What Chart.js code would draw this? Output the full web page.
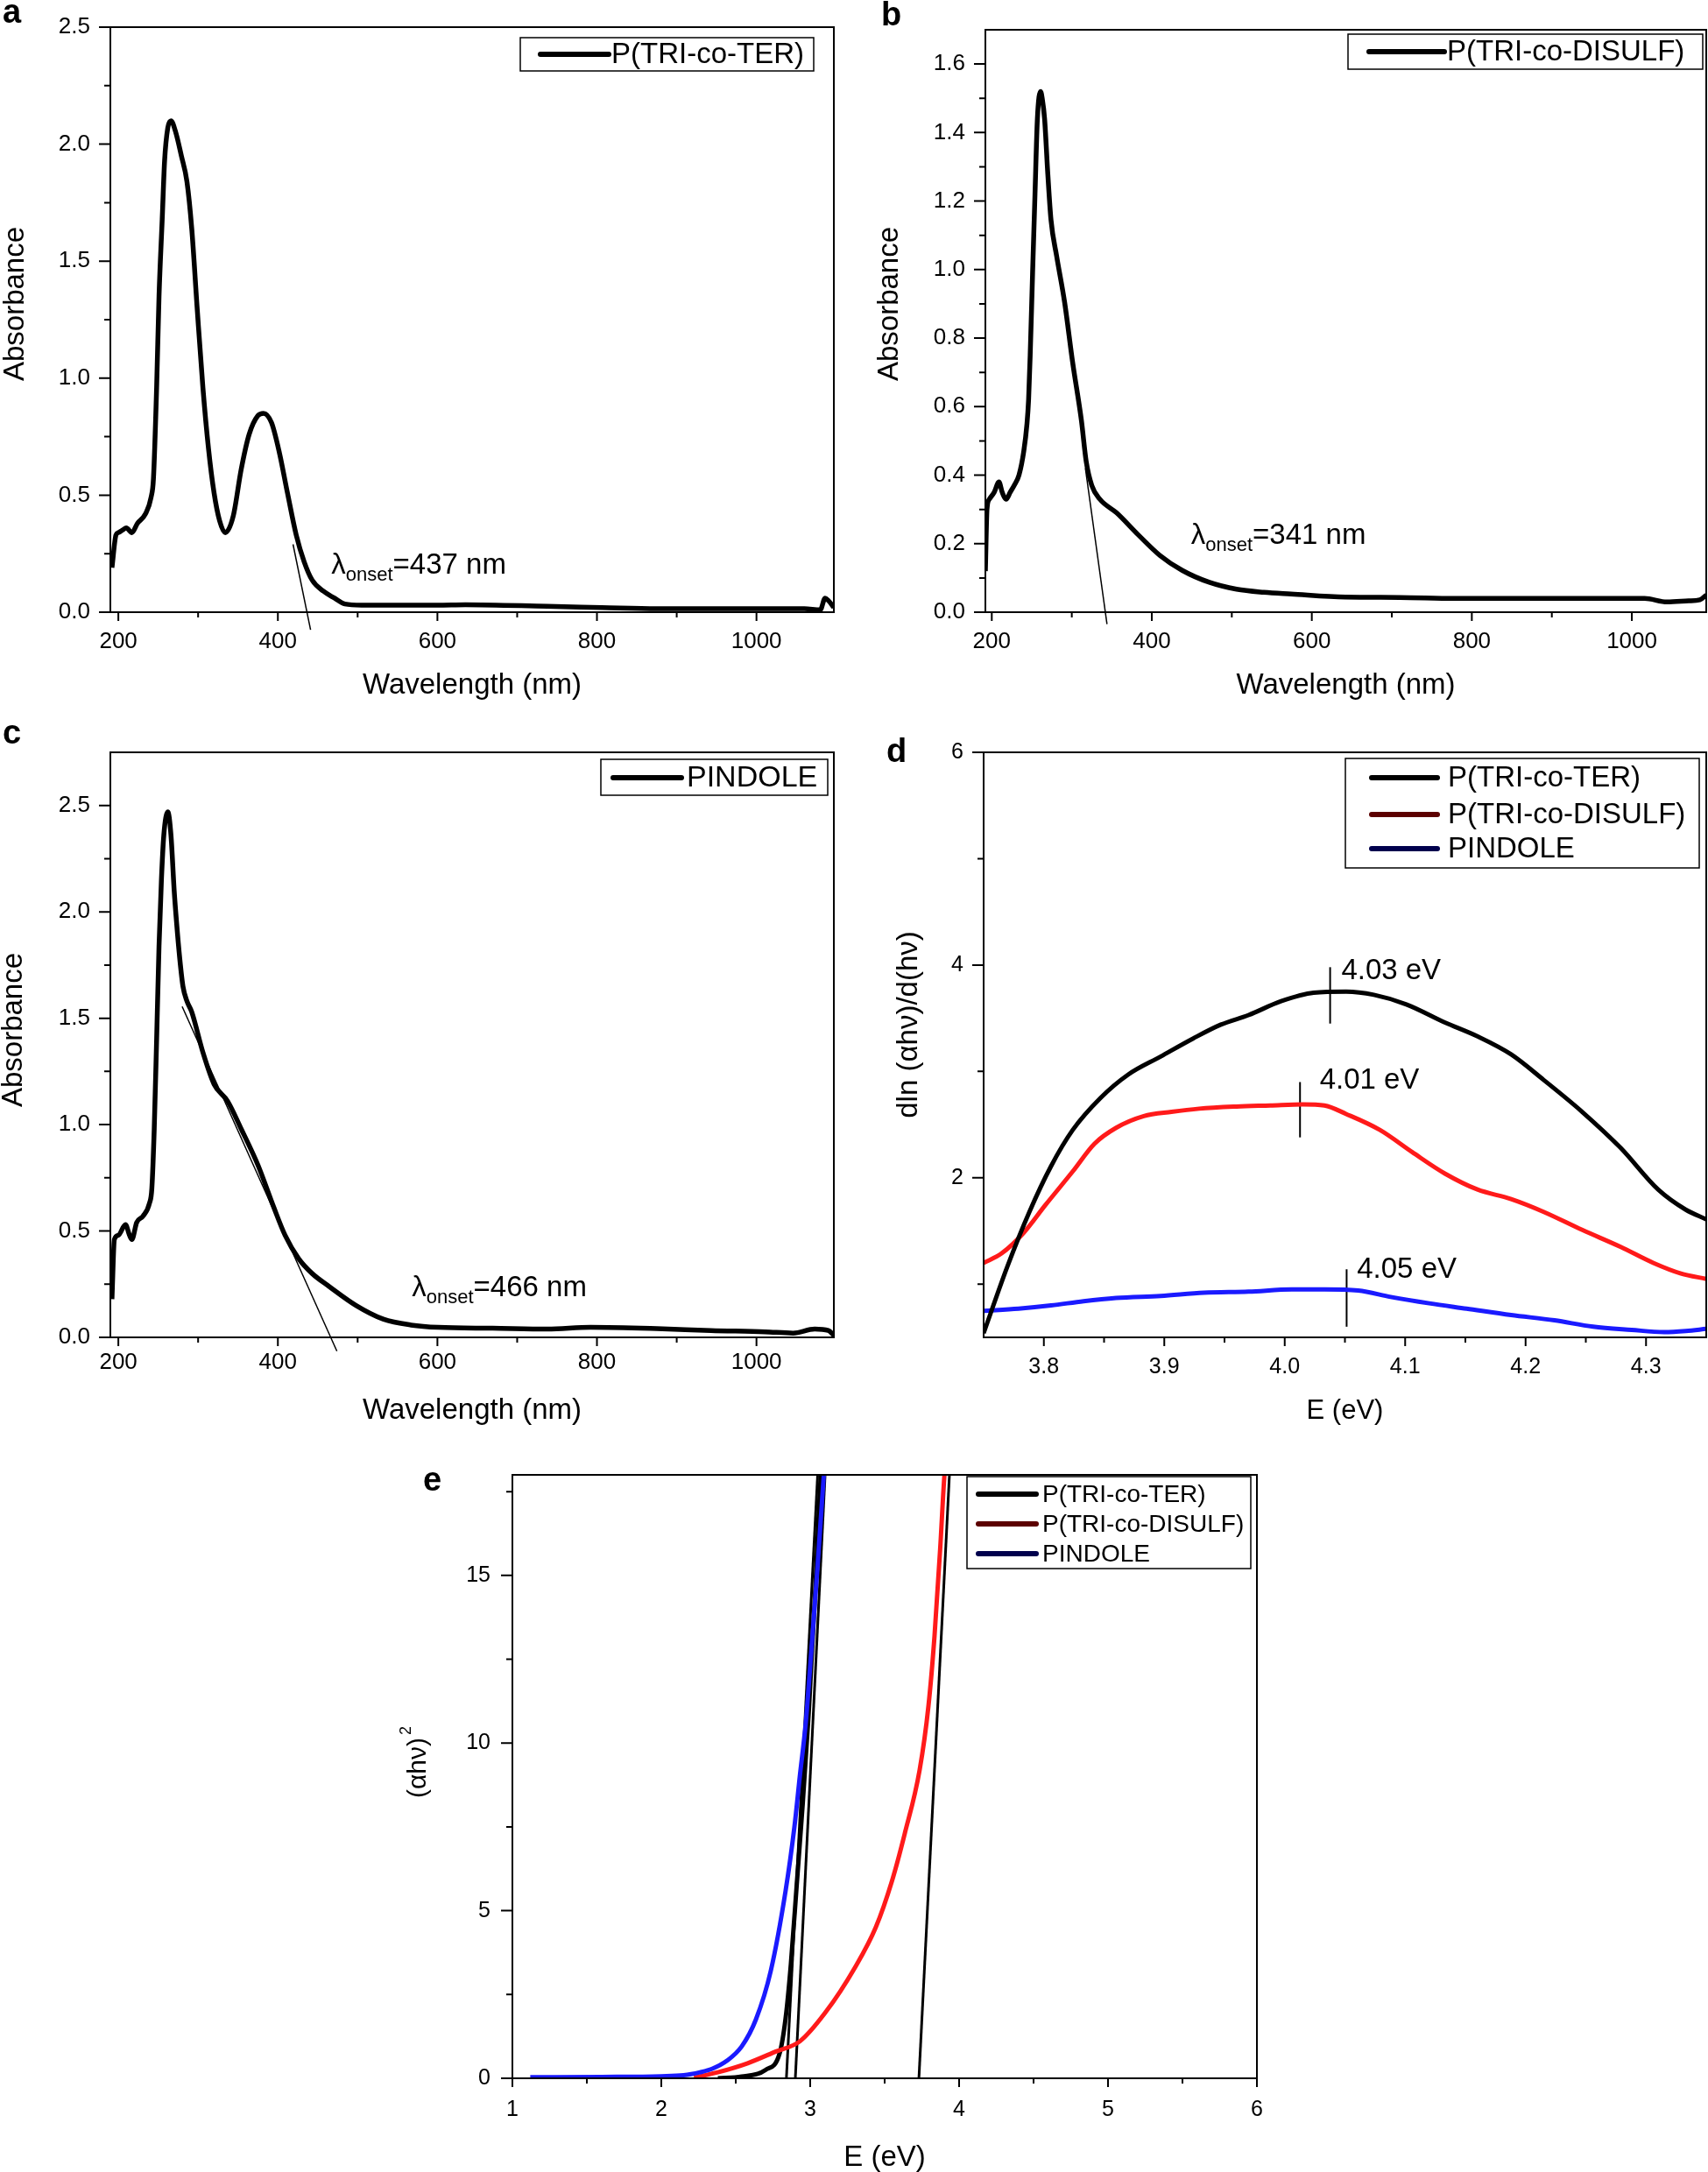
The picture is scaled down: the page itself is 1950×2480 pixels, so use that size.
<!DOCTYPE html>
<html>
<head>
<meta charset="utf-8">
<title>UV-vis spectra and optical band gaps</title>
<script src="https://cdn.jsdelivr.net/npm/chart.js@4.4.1/dist/chart.umd.min.js"></script>
<style>
  html, body { margin: 0; background: #fff; }
  body { position: relative; width: 1950px; height: 2480px; overflow: hidden; }
  canvas { position: absolute; }
</style>
</head>
<body>
<canvas id="pa" width="975" height="820" style="left:0;top:0"></canvas>
<canvas id="pb" width="975" height="820" style="left:975px;top:0"></canvas>
<canvas id="pc" width="975" height="820" style="left:0;top:820px"></canvas>
<canvas id="pd" width="975" height="820" style="left:975px;top:820px"></canvas>
<canvas id="pe" width="1100" height="820" style="left:420px;top:1660px"></canvas>
<script>
const FONT = '"Liberation Sans", Arial, Helvetica, sans-serif';

// tick values
const waveTicks = [200, 400, 600, 800, 1000];
const waveMinor = [300, 500, 700, 900];
const absTicksA = [0, 0.5, 1.0, 1.5, 2.0, 2.5];
const absMinorA = [0.25, 0.75, 1.25, 1.75, 2.25];
const absTicksB = [0, 0.2, 0.4, 0.6, 0.8, 1.0, 1.2, 1.4, 1.6];
const absMinorB = [0.1, 0.3, 0.5, 0.7, 0.9, 1.1, 1.3, 1.5];
const eTicksD = [3.8, 3.9, 4.0, 4.1, 4.2, 4.3];
const eMinorD = [3.85, 3.95, 4.05, 4.15, 4.25];
const derivTicks = [2, 4, 6];
const derivMinor = [1, 3, 5];
const eTicksE = [1, 2, 3, 4, 5, 6];
const eMinorE = [1.5, 2.5, 3.5, 4.5, 5.5];
const taucTicks = [0, 5, 10, 15];
const taucMinor = [2.5, 7.5, 12.5, 17.5];

const seriesNames = ['P(TRI-co-TER)', 'P(TRI-co-DISULF)', 'PINDOLE'];

// a: absorbance of P(TRI-co-TER), [nm, A]
const absTER = [[192,0.19],[197,0.33],[200,0.34],[205,0.35],[210,0.36],[217,0.34],[224,0.38],[234,0.42],[241,0.49],
  [244,0.57],[248,0.96],[251,1.35],[255,1.68],[258,1.93],[262,2.07],[266,2.10],[272,2.05],[279,1.95],[286,1.84],
  [292,1.64],[299,1.29],[306,0.96],[313,0.70],[320,0.51],[327,0.39],[334,0.34],[344,0.41],[354,0.61],[364,0.76],
  [375,0.84],[382,0.85],[392,0.81],[402,0.68],[412,0.51],[423,0.33],[433,0.215],[443,0.137],[457,0.09],[471,0.06],
  [484,0.035],[505,0.03],[600,0.03],[635,0.032],[738,0.025],[806,0.02],[875,0.015],[1011,0.015],[1060,0.015],
  [1080,0.01],[1086,0.06],[1090,0.05],[1097,0.02]];
const onsetTER = [[419,0.29],[441,-0.075]];

// b: absorbance of P(TRI-co-DISULF)
const absDISULF = [[192,0.12],[194,0.30],[197,0.33],[203,0.35],[209,0.38],[213,0.35],[218,0.33],[223,0.35],[228,0.37],
  [234,0.40],[240,0.47],[244,0.55],[246,0.62],[248,0.75],[251,0.99],[254,1.22],[257,1.44],[261,1.52],[263,1.50],
  [266,1.44],[270,1.28],[274,1.145],[281,1.04],[291,0.905],[301,0.73],[312,0.56],[318,0.44],[325,0.37],[335,0.33],
  [356,0.29],[383,0.226],[410,0.166],[438,0.122],[472,0.087],[506,0.067],[540,0.058],[574,0.053],[642,0.044],
  [710,0.043],[778,0.040],[914,0.040],[1016,0.040],[1044,0.030],[1071,0.033],[1085,0.036],[1093,0.05]];
const onsetDISULF = [[317,0.42],[344,-0.035]];

// c: absorbance of PINDOLE
const absPIND = [[192,0.18],[195,0.46],[200,0.48],[209,0.53],[214,0.48],[217,0.46],[223,0.54],[231,0.57],[239,0.63],
  [242,0.70],[245,0.98],[248,1.40],[251,1.84],[254,2.15],[257,2.36],[262,2.47],[266,2.36],[270,2.10],[273,1.95],
  [277,1.78],[281,1.65],[286,1.58],[292,1.53],[306,1.34],[320,1.19],[337,1.11],[354,0.98],[375,0.81],[395,0.61],
  [409,0.48],[426,0.37],[443,0.30],[464,0.24],[498,0.15],[532,0.086],[567,0.058],[601,0.047],[669,0.043],
  [738,0.039],[792,0.047],[875,0.041],[943,0.032],[1011,0.026],[1046,0.02],[1073,0.039],[1090,0.032],[1097,0.01]];
const onsetPIND = [[280,1.555],[474,-0.065]];

// d: dln(ahv)/d(hv) vs E, [eV, value]
const derivTER = [[3.75,0.54],[3.7695,1.16],[3.788,1.68],[3.806,2.11],[3.824,2.45],[3.847,2.75],[3.870,2.97],
  [3.897,3.14],[3.924,3.31],[3.947,3.44],[3.970,3.53],[3.997,3.66],[4.024,3.74],[4.051,3.75],[4.074,3.72],
  [4.101,3.63],[4.133,3.46],[4.160,3.33],[4.188,3.16],[4.215,2.92],[4.247,2.62],[4.279,2.28],[4.310,1.89],
  [4.333,1.70],[4.35,1.61]];
const derivDISULF = [[3.75,1.20],[3.765,1.29],[3.783,1.48],[3.801,1.74],[3.824,2.06],[3.842,2.32],[3.860,2.47],
  [3.883,2.58],[3.906,2.62],[3.929,2.65],[3.960,2.67],[3.988,2.68],[4.015,2.69],[4.033,2.68],[4.051,2.60],
  [4.079,2.45],[4.106,2.24],[4.133,2.04],[4.160,1.89],[4.188,1.80],[4.215,1.68],[4.247,1.51],[4.279,1.35],
  [4.306,1.20],[4.329,1.10],[4.35,1.05]];
const derivPIND = [[3.75,0.75],[3.779,0.77],[3.806,0.80],[3.833,0.84],[3.860,0.87],[3.897,0.89],[3.933,0.92],
  [3.970,0.93],[4.006,0.95],[4.033,0.95],[4.061,0.94],[4.088,0.88],[4.120,0.82],[4.151,0.77],[4.188,0.71],
  [4.224,0.66],[4.256,0.60],[4.288,0.57],[4.315,0.55],[4.333,0.56],[4.35,0.58]];
const peakTER = [[4.0377,3.45],[4.0377,3.98]];
const peakDISULF = [[4.0127,2.38],[4.0127,2.90]];
const peakPIND = [[4.0514,0.60],[4.0514,1.14]];

// e: Tauc plot (ahv)^2 vs E
const taucTER = [[2.38,0.0],[2.54,0.05],[2.7,0.25],[2.795,0.75],[2.835,1.8],[2.87,3.4],[2.91,5.8],[2.95,8.2],
  [2.99,10.9],[3.03,14.2],[3.07,17.9],[3.08,18.4]];
const taucDISULF = [[2.22,0.02],[2.38,0.18],[2.58,0.45],[2.77,0.8],[2.93,1.1],[3.1,1.95],[3.3,3.3],[3.44,4.5],
  [3.55,5.9],[3.635,7.3],[3.735,9.2],[3.794,11.1],[3.835,13.2],[3.873,15.8],[3.9,17.9],[3.91,18.4]];
const taucPIND = [[1.12,0.03],[1.6,0.04],[2.0,0.06],[2.15,0.09],[2.26,0.18],[2.34,0.28],[2.44,0.52],[2.54,0.95],
  [2.635,1.75],[2.735,3.2],[2.835,5.6],[2.894,7.5],[2.93,9.0],[2.97,10.6],[3.01,12.9],[3.05,15.3],[3.09,17.9],[3.1,18.4]];
const fitTauc1 = [[2.84,0],[3.05,18]];
const fitTauc2 = [[2.90,0],[3.10,18]];
const fitTauc3 = [[3.73,0],[3.935,18]];

const RED = '#ff1a1a', BLUE = '#1a1aff';

const pts = arr => arr.map(([x, y]) => ({ x, y }));

function curve(arr, color, width) {
  return { data: pts(arr), borderColor: color, borderWidth: width, pointRadius: 0, fill: false,
           cubicInterpolationMode: 'monotone' };
}
function straight(arr, width, noClip) {
  const ds = { data: pts(arr), borderColor: '#000', borderWidth: width, pointRadius: 0, fill: false, tension: 0 };
  if (noClip) ds.clip = false;
  return ds;
}

// scale sizes are pinned so the plot frame lands where the figure has it
function xAxis(o) {
  return {
    type: 'linear', position: 'bottom', min: o.min, max: o.max,
    afterBuildTicks: s => { s.ticks = o.ticks.map(v => ({ value: v })); },
    afterFit: s => { s.height = o.h; s.paddingLeft = 0; s.paddingRight = 0; },
    grid: { display: false, drawTicks: false },
    border: { display: false },
    ticks: { color: '#000', autoSkip: false, maxRotation: 0, padding: o.pad,
             font: { family: FONT, size: o.fs }, callback: o.fmt },
    title: { display: true, text: o.title, color: '#000', padding: 0,
             font: { family: FONT, size: o.tfs, lineHeight: 1 } }
  };
}
function yAxis(o) {
  return {
    type: 'linear', position: 'left', min: o.min, max: o.max,
    afterBuildTicks: s => { s.ticks = o.ticks.map(v => ({ value: v })); },
    afterFit: s => { s.width = o.w; s.paddingTop = 0; s.paddingBottom = 0; },
    grid: { display: false, drawTicks: false },
    border: { display: false },
    ticks: { color: '#000', autoSkip: false, padding: o.pad,
             font: { family: FONT, size: o.fs }, callback: o.fmt }
  };
}

// frame, outward ticks, panel letter, y title, legend box, text notes
function deco(cfg) {
  return {
    id: 'deco',
    afterDraw(chart) {
      const { ctx, chartArea: ca } = chart;
      const sx = chart.scales.x, sy = chart.scales.y;
      ctx.save();
      ctx.strokeStyle = '#000';
      ctx.fillStyle = '#000';
      ctx.lineWidth = 2;
      ctx.strokeRect(ca.left, ca.top, ca.right - ca.left, ca.bottom - ca.top);

      ctx.beginPath();
      const tx = (v, len) => { const p = sx.getPixelForValue(v); ctx.moveTo(p, ca.bottom); ctx.lineTo(p, ca.bottom + len); };
      const ty = (v, len) => { const p = sy.getPixelForValue(v); ctx.moveTo(ca.left, p); ctx.lineTo(ca.left - len, p); };
      cfg.xMajor.forEach(v => tx(v, 10));
      cfg.xMinor.forEach(v => tx(v, 6));
      cfg.yMajor.forEach(v => ty(v, 13));
      cfg.yMinor.forEach(v => ty(v, 7));
      ctx.stroke();

      ctx.font = `bold 38px ${FONT}`;
      ctx.textAlign = 'left';
      ctx.textBaseline = 'alphabetic';
      ctx.fillText(cfg.tag.t, cfg.tag.x, cfg.tag.y);

      const t = cfg.yTitle;
      ctx.save();
      ctx.translate(t.x, t.y);
      ctx.rotate(-Math.PI / 2);
      ctx.textBaseline = 'middle';
      ctx.font = `${t.size}px ${FONT}`;
      const w0 = ctx.measureText(t.text).width;
      let w1 = 0;
      if (t.sup) { ctx.font = `${Math.round(t.size * 0.6)}px ${FONT}`; w1 = ctx.measureText(t.sup).width + 3; }
      const x0 = -(w0 + w1) / 2;
      ctx.font = `${t.size}px ${FONT}`;
      ctx.fillText(t.text, x0, 0);
      if (t.sup) {
        ctx.font = `${Math.round(t.size * 0.6)}px ${FONT}`;
        ctx.fillText(t.sup, x0 + w0 + 3, -t.size * 0.45);
      }
      ctx.restore();

      const L = cfg.legend;
      ctx.lineWidth = 1.5;
      ctx.strokeStyle = '#000';
      ctx.fillStyle = '#fff';
      ctx.fillRect(L.box[0], L.box[1], L.box[2] - L.box[0], L.box[3] - L.box[1]);
      ctx.strokeRect(L.box[0], L.box[1], L.box[2] - L.box[0], L.box[3] - L.box[1]);
      ctx.fillStyle = '#000';
      ctx.font = `${L.size}px ${FONT}`;
      ctx.textBaseline = 'middle';
      L.rows.forEach(r => {
        ctx.strokeStyle = r.color;
        ctx.lineWidth = 6;
        ctx.lineCap = 'round';
        ctx.beginPath();
        ctx.moveTo(L.line[0], r.y);
        ctx.lineTo(L.line[1], r.y);
        ctx.stroke();
        ctx.fillText(r.label, L.textX, r.y + 1);
      });

      ctx.textBaseline = 'alphabetic';
      (cfg.notes || []).forEach(n => {
        let px = sx.getPixelForValue(n.x);
        const py = sy.getPixelForValue(n.y);
        n.parts.forEach(p => {
          ctx.font = `${p.size}px ${FONT}`;
          ctx.fillText(p.t, px, py + (p.dy || 0));
          px += ctx.measureText(p.t).width;
        });
      });
      ctx.restore();
    }
  };
}

function panel(id, o) {
  return new Chart(document.getElementById(id), {
    type: 'line',
    data: { datasets: o.datasets },
    options: {
      responsive: false,
      animation: false,
      events: [],
      layout: { padding: o.pad },
      plugins: { legend: { display: false }, tooltip: { enabled: false } },
      scales: { x: xAxis(o.x), y: yAxis(o.y) }
    },
    plugins: [deco(o.deco)]
  });
}

const intLabel = v => String(v);
const oneDec = v => v.toFixed(1);
const onsetNote = (x, y, txt) => ({ x, y, parts: [
  { t: 'λ', size: 33 }, { t: 'onset', size: 22, dy: 8 }, { t: txt, size: 33 }] });

panel('pa', {
  pad: { left: 0, top: 31, right: 23, bottom: 21 },
  x: { min: 190, max: 1097, ticks: waveTicks, fmt: intLabel, h: 100, pad: 18, fs: 26, title: 'Wavelength (nm)', tfs: 33 },
  y: { min: 0, max: 2.5, ticks: absTicksA, fmt: oneDec, w: 126, pad: 23, fs: 26 },
  datasets: [curve(absTER, '#000', 5.5), straight(onsetTER, 1.5, true)],
  deco: {
    xMajor: waveTicks, xMinor: waveMinor, yMajor: absTicksA, yMinor: absMinorA,
    tag: { t: 'a', x: 3, y: 26 },
    yTitle: { text: 'Absorbance', x: 17.5, y: 347, size: 33 },
    legend: { box: [594, 43, 929, 81], line: [617, 695], textX: 698, size: 33,
              rows: [{ label: seriesNames[0], color: '#000', y: 62 }] },
    notes: [onsetNote(467, 0.165, '=437 nm')]
  }
});

panel('pb', {
  pad: { left: 0, top: 34, right: 2, bottom: 21 },
  x: { min: 192, max: 1093, ticks: waveTicks, fmt: intLabel, h: 100, pad: 18, fs: 26, title: 'Wavelength (nm)', tfs: 33 },
  y: { min: 0, max: 1.7, ticks: absTicksB, fmt: oneDec, w: 150, pad: 23, fs: 26 },
  datasets: [curve(absDISULF, '#000', 5.5), straight(onsetDISULF, 1.5, true)],
  deco: {
    xMajor: waveTicks, xMinor: waveMinor, yMajor: absTicksB, yMinor: absMinorB,
    tag: { t: 'b', x: 31, y: 29 },
    yTitle: { text: 'Absorbance', x: 40.5, y: 347, size: 33 },
    legend: { box: [564, 39, 969, 79], line: [588, 674], textX: 677, size: 33,
              rows: [{ label: seriesNames[1], color: '#000', y: 59 }] },
    notes: [onsetNote(449, 0.2, '=341 nm')]
  }
});

panel('pc', {
  pad: { left: 0, top: 39, right: 23, bottom: 13 },
  x: { min: 190, max: 1097, ticks: waveTicks, fmt: intLabel, h: 100, pad: 13, fs: 26, title: 'Wavelength (nm)', tfs: 33 },
  y: { min: 0, max: 2.75, ticks: absTicksA, fmt: oneDec, w: 126, pad: 23, fs: 26 },
  datasets: [curve(absPIND, '#000', 5.5), straight(onsetPIND, 1.5, true)],
  deco: {
    xMajor: waveTicks, xMinor: waveMinor, yMajor: absTicksA, yMinor: absMinorA,
    tag: { t: 'c', x: 3, y: 29 },
    yTitle: { text: 'Absorbance', x: 16, y: 356, size: 33 },
    legend: { box: [686, 47, 945, 88], line: [700, 778], textX: 784, size: 34,
              rows: [{ label: seriesNames[2], color: '#000', y: 68 }] },
    notes: [onsetNote(568, 0.193, '=466 nm')]
  }
});

panel('pd', {
  pad: { left: 0, top: 39, right: 2, bottom: 13 },
  x: { min: 3.75, max: 4.35, ticks: eTicksD, fmt: oneDec, h: 100, pad: 19, fs: 25, title: 'E (eV)', tfs: 31 },
  y: { min: 0.5, max: 6, ticks: derivTicks, fmt: intLabel, w: 148, pad: 23, fs: 25 },
  datasets: [
    curve(derivTER, '#000', 5), curve(derivDISULF, RED, 5), curve(derivPIND, BLUE, 5),
    straight(peakTER, 2), straight(peakDISULF, 2), straight(peakPIND, 2)
  ],
  deco: {
    xMajor: eTicksD, xMinor: eMinorD, yMajor: derivTicks, yMinor: derivMinor,
    tag: { t: 'd', x: 37, y: 50 },
    yTitle: { text: 'dln (αhν)/d(hν)', x: 63, y: 350, size: 33 },
    legend: { box: [561, 46, 965, 171], line: [591, 666], textX: 678, size: 33,
              rows: [{ label: seriesNames[0], color: '#000', y: 68 },
                     { label: seriesNames[1], color: '#5c0000', y: 110 },
                     { label: seriesNames[2], color: '#00004d', y: 149 }] },
    notes: [
      { x: 4.047, y: 3.87, parts: [{ t: '4.03 eV', size: 33 }] },
      { x: 4.029, y: 2.84, parts: [{ t: '4.01 eV', size: 33 }] },
      { x: 4.060, y: 1.06, parts: [{ t: '4.05 eV', size: 33 }] }
    ]
  }
});

panel('pe', {
  pad: { left: 0, top: 24, right: 85, bottom: 0 },
  x: { min: 1, max: 6, ticks: eTicksE, fmt: intLabel, h: 107, pad: 21, fs: 25, title: 'E (eV)', tfs: 33 },
  y: { min: 0, max: 18, ticks: taucTicks, fmt: intLabel, w: 165, pad: 25, fs: 25 },
  datasets: [
    curve(taucPIND, BLUE, 5), curve(taucDISULF, RED, 5), curve(taucTER, '#000', 5),
    straight(fitTauc1, 3), straight(fitTauc2, 3), straight(fitTauc3, 3)
  ],
  deco: {
    xMajor: eTicksE, xMinor: eMinorE, yMajor: taucTicks, yMinor: taucMinor,
    tag: { t: 'e', x: 63, y: 42 },
    yTitle: { text: '(αhν)', sup: '2', x: 58, y: 352, size: 30 },
    legend: { box: [684, 26, 1008, 131], line: [697, 763], textX: 770, size: 28,
              rows: [{ label: seriesNames[0], color: '#000', y: 46 },
                     { label: seriesNames[1], color: '#5c0000', y: 80 },
                     { label: seriesNames[2], color: '#00004d', y: 114 }] }
  }
});
</script>
</body>
</html>
